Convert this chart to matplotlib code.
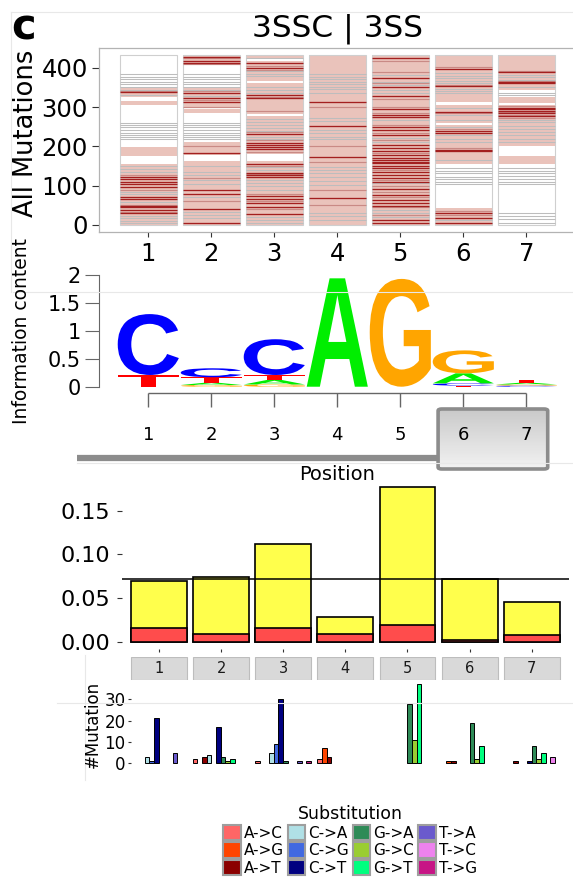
import matplotlib
matplotlib.use("Agg")
import numpy as np
import matplotlib.pyplot as plt
from matplotlib.patches import Rectangle, FancyBboxPatch, PathPatch, Patch
from matplotlib.textpath import TextPath
from matplotlib.font_manager import FontProperties
from matplotlib.transforms import Affine2D
from matplotlib.lines import Line2D

# ---------------- data ----------------
positions = [1, 2, 3, 4, 5, 6, 7]

# top panel: per column, pink blocks, grey lines, medium red lines, dark red lines
heat_pink = [
    [(326, 348), (305, 315), (176, 198), (0, 155)],
    [(407, 432), (301, 348), (284, 295), (178, 212), (0, 164)],
    [(422, 432), (367, 417), (283, 360), (180, 276), (0, 164)],
    [(0, 432)],
    [(0, 432)],
    [(314, 432), (260, 305), (155, 254), (0, 42)],
    [(343, 432), (310, 325), (200, 305), (155, 176)],
]
heat_gray = [
    [383, 377, 371, 365, 358, 352, 344, 330, 260, 254, 248, 242, 235, 229, 223, 218, 150, 143, 136, 85, 79, 59, 24, 17, 10, 4],
    [383, 377, 371, 365, 358, 352, 344, 329, 260, 254, 248, 242, 235, 229, 223, 218, 150, 136, 127, 115, 104, 72, 61, 34, 25, 17],
    [426, 392, 385, 378, 350, 343, 336, 270, 262, 255, 247, 240, 225, 218, 147, 141, 115, 106, 98, 89, 21, 13, 6],
    [383, 377, 371, 364, 358, 352, 345, 337, 271, 265, 242, 233, 225, 218, 148, 140, 131, 123, 111, 102, 31, 23, 13],
    [382, 365, 356, 343, 335, 267, 221, 212, 106, 99, 38, 30, 21],
    [386, 379, 373, 367, 360, 347, 341, 335, 297, 280, 267, 249, 229, 220, 212, 166, 145, 138, 131, 123, 116, 110, 104, 12],
    [382, 376, 369, 352, 337, 330, 268, 262, 253, 245, 237, 229, 220, 212, 144, 137, 131, 124, 116, 110, 104, 31, 23, 14, 6],
]
heat_med = [
    [340, 128, 90, 52, 34],
    [425, 410, 340, 318, 300, 200, 120, 60],
    [405, 395, 326, 290, 236, 215, 186, 150, 130, 80, 60, 40],
    [300, 200, 160, 90, 50],
    [418, 390, 360, 320, 300, 285, 255, 235, 215, 183, 140, 115, 100, 85, 70, 45, 25],
    [402, 357, 285, 245, 196, 35, 25],
    [392, 366, 302, 287, 280, 272],
]
heat_red = [
    [338, 123, 116, 110, 103, 97, 70, 65, 48, 45, 38, 30],
    [428, 418, 413, 335, 322, 312, 182, 89, 79, 40, 6],
    [411, 399, 331, 322, 232, 209, 204, 198, 193, 155, 133, 127, 123, 75, 65, 55, 47, 28],
    [314, 251, 173, 68],
    [424, 373, 352, 328, 294, 280, 274, 248, 242, 229, 204, 195, 187, 178, 170, 166, 161, 157,
     150, 144, 136, 127, 119, 110, 91, 76, 64, 55, 49, 13, 6],
    [398, 353, 288, 240, 235, 192, 188, 30, 19, 6],
    [388, 364, 360, 298, 294, 290, 284, 277],
]

# sequence logo: letters stacked bottom -> top with their heights (bits)
logo_letters = [
    ["T", "C"],
    ["G", "A", "T", "C"],
    ["G", "A", "T", "C"],
    ["A"],
    ["G"],
    ["T", "C", "A", "G"],
    ["C", "G", "A", "T"],
]
logo_heights = [
    [0.21, 1.09],
    [0.03, 0.04, 0.10, 0.16],
    [0.04, 0.08, 0.09, 0.64],
    [1.94],
    [1.93],
    [0.02, 0.04, 0.18, 0.41],
    [0.02, 0.02, 0.03, 0.05],
]
letter_colors = {"A": "#00EE00", "C": "#0000FF", "G": "#FFA500", "T": "#FF0000"}

# rate bars
rate_total = [0.0695, 0.0737, 0.1115, 0.0283, 0.1768, 0.0718, 0.0458]
rate_red = [0.0160, 0.0092, 0.0160, 0.0092, 0.0187, 0.0015, 0.0073]
rate_line = 0.0718

# mutation counts per substitution (rows) and position (columns)
substitutions = ["A->C", "A->G", "A->T", "C->A", "C->G", "C->T",
                 "G->A", "G->C", "G->T", "T->A", "T->C", "T->G"]
sub_colors = ["#FF6666", "#FF4500", "#8B0000", "#B0E0E6", "#4169E1", "#000080",
              "#2E8B57", "#9ACD32", "#00FF7F", "#6A5ACD", "#EE82EE", "#C71585"]
mut_counts = [
    [0, 2, 1, 2, 0, 0, 0],     # A->C
    [0, 0, 0, 7, 0, 1, 0],     # A->G
    [0, 3, 0, 3, 0, 1, 1],     # A->T
    [3, 4, 5, 0, 0, 0, 0],     # C->A
    [1, 0, 9, 0, 0, 0, 0],     # C->G
    [21, 17, 30, 0, 0, 0, 1],  # C->T
    [0, 3, 1, 0, 28, 19, 8],   # G->A
    [0, 1, 0, 0, 11, 2, 2],    # G->C
    [0, 2, 0, 0, 37, 8, 5],    # G->T
    [5, 0, 1, 0, 0, 0, 0],     # T->A
    [0, 0, 0, 0, 0, 0, 3],     # T->C
    [0, 0, 1, 0, 0, 0, 0],     # T->G
]

# ---------------- figure ----------------
W, H = 573, 884
fig = plt.figure(figsize=(W / 100, H / 100), dpi=100)
fig.patch.set_facecolor("white")


def px_axes(x0, y0, x1, y1):
    return fig.add_axes([x0 / W, 1 - y1 / H, (x1 - x0) / W, (y1 - y0) / H])


def faint(x0, y0, x1, y1):
    fig.add_artist(Line2D([x0 / W, x1 / W], [1 - y0 / H, 1 - y1 / H],
                          transform=fig.transFigure, color="#E8E8E8", lw=0.8))


faint(11, 12, 573, 12)
faint(11, 12, 11, 292)
faint(13, 292, 573, 292)
faint(77, 463, 573, 463)
faint(57, 703, 573, 703)
faint(85, 655, 85, 780)

TOPX = (0.213, 7.789)

# ---- top heat strips ----
ax = px_axes(98.7, 47.7, 576, 232.3)
ax.set_xlim(*TOPX)
ax.set_ylim(-18.6, 451)
for i, x in enumerate(positions):
    for lo, hi in heat_pink[i]:
        ax.bar(x, hi - lo, bottom=lo, width=0.9, color="#EAC3BB", lw=0)
    ax.hlines(heat_gray[i], x - 0.45, x + 0.45, color="#BDBDBD", lw=0.75)
    ax.hlines(heat_med[i], x - 0.45, x + 0.45, color="#C98A85", lw=0.85)
    ax.hlines(heat_red[i], x - 0.45, x + 0.45, color="#A31F1F", lw=0.95)
    ax.add_patch(Rectangle((x - 0.45, 0), 0.9, 432, fc="none", ec="#CFCFCF", lw=0.8))
for s in ax.spines.values():
    s.set_color("#B3B3B3")
    s.set_linewidth(0.9)
ax.set_yticks([0, 100, 200, 300, 400])
ax.set_xticks(positions)
ax.tick_params(axis="y", labelsize=17.5, length=5, pad=2.7, color="#333333")
ax.tick_params(axis="x", labelsize=17.5, length=3.6, pad=3.6, color="#333333")
fig.text(26.5 / W, 1 - 133 / H, "All Mutations", rotation=90, fontsize=18.5,
         ha="center", va="center")
fig.text(337 / W, 1 - 36.7 / H, "3SSC | 3SS", fontsize=22.5, ha="center", va="baseline")
fig.text(23.5 / W, 1 - 40 / H, "c", fontsize=30, fontweight="bold", ha="center", va="baseline")

# ---- sequence logo ----
axl = px_axes(98.7, 268, 576, 388)
axl.set_xlim(*TOPX)
axl.set_ylim(-0.023, 2.125)
fp = FontProperties(family="Liberation Sans", weight="bold")
for x, letters, heights in zip(positions, logo_letters, logo_heights):
    y0 = 0.0
    for ch, h in zip(letters, heights):
        tp = TextPath((0, 0), ch, size=1, prop=fp)
        bb = tp.get_extents()
        tr = (Affine2D().translate(-bb.x0, -bb.y0)
              .scale(0.97 / bb.width, h / bb.height)
              .translate(x - 0.485, y0))
        axl.add_patch(PathPatch(tr.transform_path(tp), fc=letter_colors[ch], ec="none"))
        y0 += h
for k in ["top", "right", "bottom"]:
    axl.spines[k].set_visible(False)
axl.spines["left"].set_bounds(0, 2)
axl.spines["left"].set_color("#666666")
axl.set_xticks([])
axl.set_yticks([0, 0.5, 1, 1.5, 2])
axl.set_yticklabels(["0", "0.5", "1", "1.5", "2"])
axl.tick_params(axis="y", labelsize=15, length=10, pad=3, color="#666666")
axl.patch.set_alpha(0)
fig.text(22 / W, 1 - 331 / H, "Information content", rotation=90, fontsize=13.5,
         ha="center", va="center")

# ---- position bracket ----
axp = px_axes(98.7, 388, 576, 486)
axp.set_xlim(*TOPX)
axp.set_ylim(486, 388)
axp.axis("off")
axp.hlines(393, positions[0], positions[-1], color="#666666", lw=1.0)
axp.vlines(positions, 393, 407, color="#666666", lw=1.0)
for x in positions:
    axp.text(x, 435, str(x), fontsize=13, ha="center", va="center")
axp.plot([-0.135, 5.58], [458, 458], color="#8C8C8C", lw=4.5, clip_on=False,
         solid_capstyle="butt")
box = FancyBboxPatch((5.6, 409), 1.74, 60, boxstyle="round,pad=0,rounding_size=0.06",
                     fc="none", ec="#8C8C8C", lw=2.6, zorder=3, mutation_aspect=30)
axp.add_patch(box)
grad = np.linspace(0, 1, 64).reshape(-1, 1)
im = axp.imshow(grad, extent=(5.6, 7.34, 469, 409), origin="upper", aspect="auto",
                cmap=matplotlib.colors.LinearSegmentedColormap.from_list("g", ["#C9C9C9", "#F2F2F2"]),
                zorder=2)
im.set_clip_path(box)
axp.set_xlim(*TOPX)
axp.set_ylim(486, 388)
axp.text(4.0, 474, "Position", fontsize=14, ha="center", va="center")

# ---- rate bars ----
axb = px_axes(121.7, 479.7, 569, 649.4)
axb.set_xlim(0.4, 7.6)
axb.set_ylim(-0.0088, 0.1856)
axb.bar(positions, rate_total, width=0.9, color="#FFFF4C", edgecolor="black", lw=1.2)
axb.bar(positions, rate_red, width=0.9, color="#FF4C4C", edgecolor="black", lw=1.2)
axb.axhline(rate_line, color="black", lw=1.1)
for s in axb.spines.values():
    s.set_visible(False)
axb.set_yticks([0, 0.05, 0.10, 0.15])
axb.set_yticklabels(["0.00", "0.05", "0.10", "0.15"])
axb.set_xticks(positions)
axb.set_xticklabels([])
axb.tick_params(axis="y", labelsize=16, length=3.4, pad=5, color="#333333")
axb.tick_params(axis="x", length=2.5, color="#333333")
axb.patch.set_alpha(0)

# facet strips
axs = px_axes(121.7, 656.7, 569, 680)
axs.set_xlim(0.4, 7.6)
axs.set_ylim(0, 1)
axs.axis("off")
for x in positions:
    axs.add_patch(Rectangle((x - 0.45, 0), 0.9, 1, fc="#D9D9D9", ec="#BDBDBD", lw=0.8))
    axs.text(x, 0.5, str(x), fontsize=10.5, ha="center", va="center", color="#1A1A1A")

# ---- mutation counts ----
axm = px_axes(130.6, 680.4, 559.8, 767.2)
axm.set_xlim(0.55, 7.45)
axm.set_ylim(-1.85, 38.85)
slot = 0.9 / len(substitutions)
for k, (col, counts) in enumerate(zip(sub_colors, mut_counts)):
    xs = [p - 0.45 + (k + 0.5) * slot for p, c in zip(positions, counts) if c > 0]
    hs = [c for c in counts if c > 0]
    axm.bar(xs, hs, width=slot, color=col, edgecolor="black", lw=0.7)
for s in axm.spines.values():
    s.set_visible(False)
axm.set_xticks([])
axm.set_yticks([0, 10, 20, 30])
axm.tick_params(axis="y", labelsize=12, length=2.5, pad=1, color="#333333")
axm.patch.set_alpha(0)
fig.text(93 / W, 1 - 724 / H, "#Mutation", rotation=90, fontsize=12,
         ha="center", va="center")

# ---- legend ----
handles = [Patch(facecolor=c, edgecolor="#9E9E9E", lw=1.5) for c in sub_colors]
fig.legend(handles, substitutions, ncol=4, loc="upper center",
           bbox_to_anchor=(350 / W, 1 - 805 / H), frameon=False,
           title="Substitution", fontsize=11, title_fontsize=12.5,
           handlelength=1.15, handleheight=1.15, handletextpad=0.2,
           columnspacing=0.25, labelspacing=0.12, borderaxespad=0, borderpad=0)

fig.savefig("out.png", dpi=100)
